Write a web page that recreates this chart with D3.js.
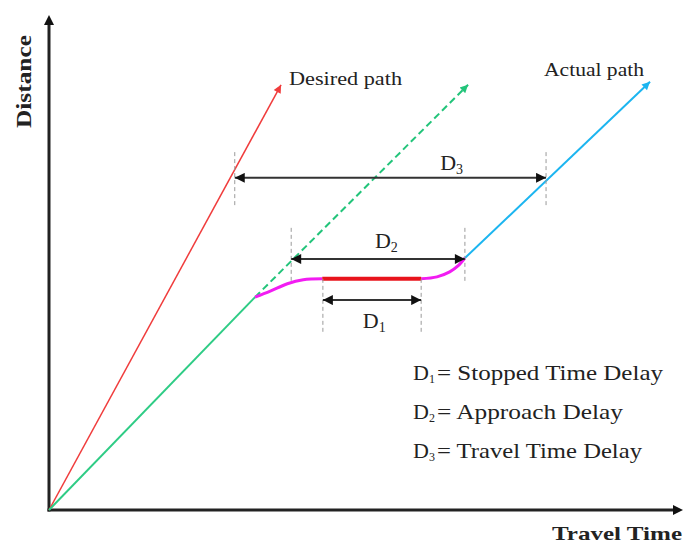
<!DOCTYPE html>
<html lang="en">
<head>
    <meta charset="UTF-8">
    <title>Delay diagram</title>
    <script src="https://d3js.org/d3.v7.min.js"></script>
    <style>
        body { margin: 0; background: #fff; }
        text { font-family: "Liberation Serif", "Times New Roman", serif; fill: #222; }
        .axis-title { font-weight: bold; }
        .guide { stroke: #9a9a9a; stroke-width: 1; stroke-dasharray: 4,3; }
        .dim { stroke: #333; stroke-width: 2; }
    </style>
</head>
<body>
    <svg id="chart"></svg>

    <script>
        // path data, in (time, distance) units 0..100
        var desiredPath = [[0, 0], [36.6, 85.9]];
        var freeFlowSolid = [[0, 0], [32.5, 43.0]];
        var freeFlowDashed = [[32.5, 43.0], [66.1, 85.9]];
        var decelCurve = [[32.5, 43.0], [34.9, 44.2], [37.6, 45.7], [40.1, 46.5], [43.1, 46.7]];
        var stoppedSegment = [[43.1, 46.7], [58.7, 46.7]];
        var accelCurve = [[58.7, 46.7], [61.2, 47.1], [63.2, 48.1], [64.5, 49.3], [65.6, 50.9]];
        var actualPath = [[65.6, 50.9], [94.8, 86.5]];

        // delay dimensions
        var delayNames = ["1", "2", "3"];
        var delayStart = [43.2, 38.2, 29.3];
        var delayEnd = [58.7, 65.6, 78.4];
        var delayLevel = [42.4, 50.7, 67.1];
        var guideTop = [46.7, 57.0, 72.3];
        var guideBottom = [36.0, 46.1, 61.4];
        var labelT = [49.5, 51.4, 61.7];
        var labelD = [36.8, 52.9, 68.7];

        // legend
        var legendTerms = ["Stopped Time Delay", "Approach Delay", "Travel Time Delay"];
        var legendWidths = [226, 186, 205];

        var width = 683;
        var height = 544;

        var svg = d3.select("#chart")
                    .attr("width", width)
                    .attr("height", height);

        var x = d3.scaleLinear().domain([0, 100]).range([49, 683]);
        var y = d3.scaleLinear().domain([0, 100]).range([510, 15]);

        var line = d3.line().x(function(d) { return x(d[0]); }).y(function(d) { return y(d[1]); });
        var curve = d3.line().curve(d3.curveCatmullRom)
                      .x(function(d) { return x(d[0]); }).y(function(d) { return y(d[1]); });

        // arrow markers
        var defs = svg.append("defs");
        function marker(id, color, w, h) {
            defs.append("marker")
                .attr("id", id)
                .attr("viewBox", "0 0 10 10")
                .attr("refX", 10).attr("refY", 5)
                .attr("markerUnits", "userSpaceOnUse")
                .attr("markerWidth", w).attr("markerHeight", h)
                .attr("orient", "auto-start-reverse")
                .append("path")
                .attr("d", "M0,0L10,5L0,10z")
                .attr("fill", color);
        }
        marker("ah-red", "#f03c3c", 10, 8);
        marker("ah-green", "#22c47a", 10, 8);
        marker("ah-blue", "#1cb5f0", 10, 8);
        marker("ah-black", "#111", 11, 10);
        marker("ah-axis", "#111", 10, 10);

        // axes (no ticks, arrow ends)
        svg.append("line")
           .attr("x1", x(0)).attr("y1", y(0) + 1.5)
           .attr("x2", x(0)).attr("y2", y(100) + 4)
           .attr("stroke", "#222").attr("stroke-width", 3);
        svg.append("line")
           .attr("x1", x(0)).attr("y1", y(100) + 10)
           .attr("x2", x(0)).attr("y2", y(100))
           .attr("stroke", "none")
           .attr("marker-end", "url(#ah-axis)");
        svg.append("line")
           .attr("x1", x(0) - 1.5).attr("y1", y(0))
           .attr("x2", x(100) - 4).attr("y2", y(0))
           .attr("stroke", "#222").attr("stroke-width", 3);
        svg.append("line")
           .attr("x1", x(100) - 10).attr("y1", y(0))
           .attr("x2", x(100)).attr("y2", y(0))
           .attr("stroke", "none")
           .attr("marker-end", "url(#ah-axis)");

        svg.append("text")
           .attr("class", "axis-title")
           .attr("transform", "translate(31," + 128 + ") rotate(-90)")
           .attr("font-size", 21)
           .attr("textLength", 93).attr("lengthAdjust", "spacingAndGlyphs")
           .text("Distance");
        svg.append("text")
           .attr("class", "axis-title")
           .attr("x", 552).attr("y", 540)
           .attr("font-size", 19)
           .attr("textLength", 130).attr("lengthAdjust", "spacingAndGlyphs")
           .text("Travel Time");

        // paths
        svg.append("path").attr("d", line(desiredPath))
           .attr("fill", "none").attr("stroke", "#f03c3c").attr("stroke-width", 1.5)
           .attr("marker-end", "url(#ah-red)");
        svg.append("path").attr("d", line(freeFlowSolid))
           .attr("fill", "none").attr("stroke", "#2ecc85").attr("stroke-width", 2);
        svg.append("path").attr("d", line(freeFlowDashed))
           .attr("fill", "none").attr("stroke", "#22c47a").attr("stroke-width", 2)
           .attr("stroke-dasharray", "7,4")
           .attr("marker-end", "url(#ah-green)");
        svg.append("path").attr("d", line(actualPath))
           .attr("fill", "none").attr("stroke", "#1cb5f0").attr("stroke-width", 2)
           .attr("marker-end", "url(#ah-blue)");
        svg.append("path").attr("d", curve(decelCurve))
           .attr("fill", "none").attr("stroke", "#f21cf2").attr("stroke-width", 3);
        svg.append("path").attr("d", curve(accelCurve))
           .attr("fill", "none").attr("stroke", "#f21cf2").attr("stroke-width", 3);
        svg.append("path").attr("d", line(stoppedSegment))
           .attr("fill", "none").attr("stroke", "#e8141c").attr("stroke-width", 4);

        svg.append("text").attr("x", 289).attr("y", 85).attr("font-size", 18)
           .attr("textLength", 113).attr("lengthAdjust", "spacingAndGlyphs")
           .text("Desired path");
        svg.append("text").attr("x", 544).attr("y", 76).attr("font-size", 18)
           .attr("textLength", 100).attr("lengthAdjust", "spacingAndGlyphs")
           .text("Actual path");

        // delay dimensions
        delayNames.forEach(function(n, i) {
            [delayStart[i], delayEnd[i]].forEach(function(t) {
                svg.append("line").attr("class", "guide")
                   .attr("x1", x(t)).attr("x2", x(t))
                   .attr("y1", y(guideTop[i])).attr("y2", y(guideBottom[i]));
            });
            svg.append("line").attr("class", "dim")
               .attr("x1", x(delayStart[i])).attr("x2", x(delayEnd[i]))
               .attr("y1", y(delayLevel[i])).attr("y2", y(delayLevel[i]))
               .attr("marker-start", "url(#ah-black)")
               .attr("marker-end", "url(#ah-black)");
            var lbl = svg.append("text")
               .attr("x", x(labelT[i])).attr("y", y(labelD[i]))
               .attr("font-size", 22);
            lbl.append("tspan").text("D");
            lbl.append("tspan").attr("font-size", 14).attr("dy", 4).text(n);
        });

        // legend
        legendTerms.forEach(function(term, i) {
            var by = 380 + i * 39;
            var t = svg.append("text").attr("x", 413).attr("y", by).attr("font-size", 22);
            t.append("tspan").text("D");
            t.append("tspan").attr("font-size", 12).attr("dy", 3).text(delayNames[i]);
            svg.append("text").attr("x", 437).attr("y", by).attr("font-size", 22)
               .attr("textLength", legendWidths[i]).attr("lengthAdjust", "spacingAndGlyphs")
               .text("= " + term);
        });
    </script>
</body>
</html>
